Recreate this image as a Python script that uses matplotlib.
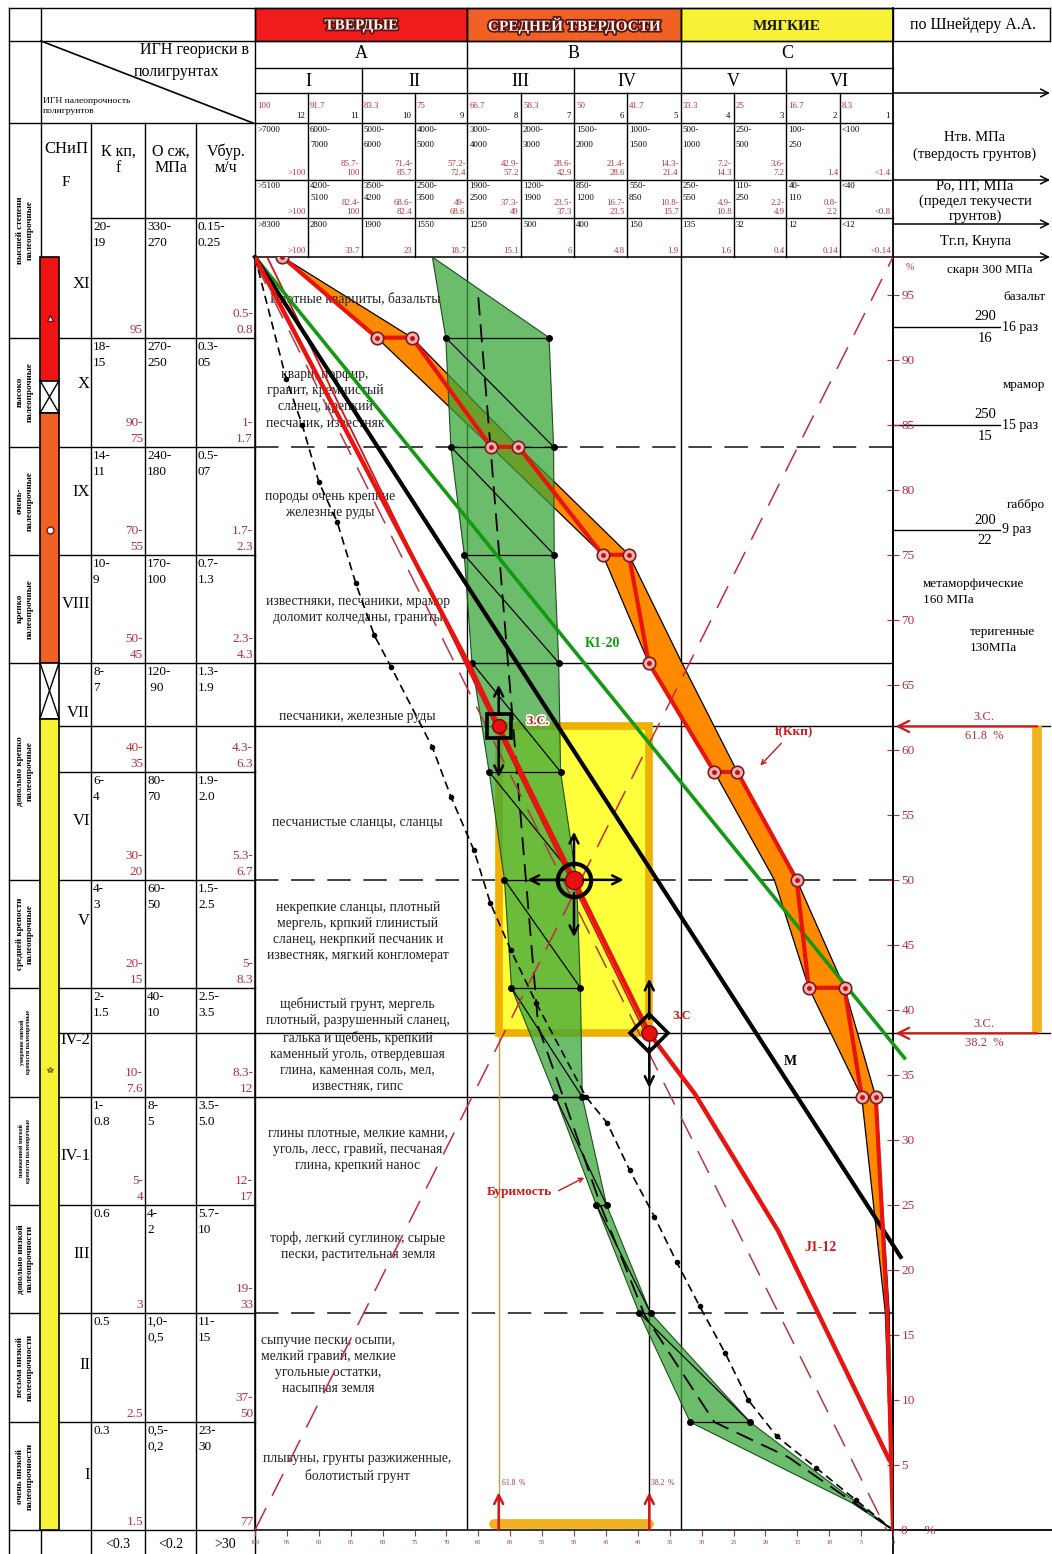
import matplotlib
matplotlib.use('Agg')
import matplotlib.pyplot as plt
import matplotlib.patheffects as pe
from matplotlib.patches import Rectangle, Polygon

plt.rcParams['font.family'] = ['Liberation Serif', 'DejaVu Serif']

W, H = 1052, 1554
RED_T = '#b5303c'
RED_L = '#e8140f'

# ---------------- шапка таблицы ----------------
classes = ['ТВЕРДЫЕ', 'СРЕДНЕЙ ТВЕРДОСТИ', 'МЯГКИЕ']
class_colors = ['#f01c1c', '#f26124', '#f7f236']
class_bounds = [100, 66.7, 33.3, 0]
groups = ['A', 'B', 'C']
sub_roman = ['I', 'II', 'III', 'IV', 'V', 'VI']
sub_bounds = [100, 83.3, 66.7, 50, 33.3, 16.7, 0]

col_bounds = [100, 91.7, 83.3, 75, 66.7, 58.3, 50, 41.7, 33.3, 25, 16.7, 8.3, 0]
col_pct = ['100', '91.7', '83.3', '75', '66.7', '58.3', '50', '41.7', '33.3', '25', '16.7', '8.3']
col_num = ['12', '11', '10', '9', '8', '7', '6', '5', '4', '3', '2', '1']
htv_mpa = ['>7000', '6000-\n7000', '5000-\n6000', '4000-\n5000', '3000-\n4000', '2000-\n3000',
           '1500-\n2000', '1000-\n1500', '500-\n1000', '250-\n500', '100-\n250', '<100']
htv_pct = ['>100', '85.7-\n100', '71.4-\n85.7', '57.2-\n72.4', '42.9-\n57.2', '28.6-\n42.9',
           '21.4-\n28.6', '14.3-\n21.4', '7.2-\n14.3', '3.6-\n7.2', '1.4', '<1.4']
po_mpa = ['>5100', '4200-\n5100', '3500-\n4200', '2500-\n3500', '1900-\n2500', '1200-\n1900',
          '850-\n1200', '550-\n850', '250-\n550', '110-\n250', '40-\n110', '<40']
po_pct = ['>100', '82.4-\n100', '68.6-\n82.4', '49-\n68.6', '37.3-\n49', '23.5-\n37.3',
          '16.7-\n23.5', '10.8-\n15.7', '4.9-\n10.8', '2.2-\n4.9', '0.8-\n2.2', '<0.8']
tgp_val = ['>8300', '2800', '1900', '1550', '1250', '500', '400', '150', '135', '32', '12', '<12']
tgp_pct = ['>100', '33.7', '23', '18.7', '15.1', '6', '4.8', '1.9', '1.6', '0.4', '0.14', '<0.14']

# ---------------- левая часть таблицы ----------------
group_names = ['высшей степени\nпалеопрочные', 'высоко\nпалеопрочные', 'очень-\nпалеопрочные',
               'крепко\nпалеопрочные', 'довольно крепко\nпалеопрочные', 'средней крепости\nпалеопрочные',
               'умеренно мягкой\nкрепости палеопрочные', 'пониженной мягкой\nкрепости палеопрочные',
               'довольно низкой\nпалеопрочности', 'весьма низкой\nпалеопрочности',
               'очень низкой\nпалеопрочности']
group_edges = [91.7, 83.3, 75, 66.7, 50, 41.7, 33.3, 25, 16.7, 8.3, 0]
bar_edges = [97.9, 88.4, 85.9, 66.7, 62.4, 0]
bar_kind = ['#ee1414', 'x', '#f26124', 'x', '#f7f236']
snip_roman = ['XI', 'X', 'IX', 'VIII', 'VII', 'VI', 'V', 'IV-2', 'IV-1', 'III', 'II', 'I']
snip_y = [95.8, 88.1, 79.8, 71.2, 62.8, 54.5, 46.8, 37.7, 28.8, 21.2, 12.7, 4.2]

row_edges = [91.7, 83.3, 75, 66.7, 61.8, 58.3, 50, 41.7, 38.2, 33.3, 25, 16.7, 8.3, 0]
kkp_top = ['20-\n19', '18-\n15', '14-\n11', '10-\n9', '8-\n7', '', '6-\n4', '4-\n3', '2-\n1.5', '',
           '1-\n0.8', '0.6', '0.5', '0.3']
kkp_red = ['95', '90-\n75', '70-\n55', '50-\n45', '', '40-\n35', '30-\n20', '20-\n15', '', '10-\n7.6',
           '5-\n4', '3', '2.5', '1.5']
osz_top = ['330-\n270', '270-\n250', '240-\n180', '170-\n100', '120-\n 90', '', '80-\n70', '60-\n50',
           '40-\n10', '', '8-\n5', '4-\n2', '1,0-\n0,5', '0,5-\n0,2']
vbur_top = ['0.15-\n0.25', '0.3-\n05', '0.5-\n07', '0.7-\n1.3', '1.3-\n1.9', '', '1.9-\n2.0', '1.5-\n2.5',
            '2.5-\n3.5', '', '3.5-\n5.0', '5.7-\n10', '11-\n15', '23-\n30']
vbur_red = ['0.5-\n0.8', '1-\n1.7', '1.7-\n2.3', '2.3-\n4.3', '', '4.3-\n6.3', '5.3-\n6.7', '5-\n8.3', '',
            '8.3-\n12', '12-\n17', '19-\n33', '37-\n50', '77']
bottom_vals = ['<0.3', '<0.2', '>30']

rock_texts = ['Плотные кварциты, базальты',
              'кварц, порфир,\nгранит, кремнистый\nсланец, крепкий\nпесчаник, известняк',
              'породы очень крепкие\nжелезные руды',
              'известняки, песчаники, мрамор\nдоломит колчеданы, граниты',
              'песчаники, железные руды',
              'песчанистые сланцы, сланцы',
              'некрепкие сланцы, плотный\nмергель, крпкий глинистый\nсланец, некрпкий песчаник и\nизвестняк, мягкий конгломерат',
              'щебнистый грунт, мергель\nплотный, разрушенный сланец,\nгалька и щебень, крепкий\nкаменный уголь, отвердевшая\nглина, каменная соль, мел,\nизвестняк, гипс',
              'глины плотные, мелкие камни,\nуголь, лесс, гравий, песчаная\nглина, крепкий нанос',
              'торф, легкий суглинок, сырые\nпески, растительная земля',
              'сыпучие пески, осыпи,\nмелкий гравий, мелкие\nугольные остатки,\nнасыпная земля',
              'плывуны, грунты разжиженные,\nболотистый грунт']
rock_x = [84.3, 89.0, 88.2, 83.9, 83.9, 83.9, 83.9, 83.9, 83.9, 83.9, 88.5, 84.0]
rock_y = [94.7, 87.0, 78.9, 70.8, 62.6, 54.4, 46.0, 37.3, 29.3, 21.8, 12.7, 4.8]

# ---------------- кривые графика (X, Y в %) ----------------
gold = [61.8, 50.0, 38.2]

J_x = [100, 66.3, 61.8, 50, 38.2, 31.0, 18.0, 0.6, 0]
J_y = [97.9, 66.4, 61.8, 50, 38.2, 33.5, 23.0, 5.4, 5.0]
M_x = [100, -1.2]
M_y = [97.9, 21.0]
K_x = [100, -1.8]
K_y = [97.9, 36.3]
thin_x = [98.1, 38.6]
thin_y = [97.9, 38.0]

bd_x = [100, 95.1, 92.6, 90.0, 87.1, 84.2, 81.3, 78.7, 72.2, 69.3, 65.7, 63.1, 59.9, 55.9, 48.1,
        44.8, 41.3, 37.4, 33.9, 30.3, 26.3, 22.7, 18.2, 12.1, 5.8, 0]
bd_y = [97.9, 88.5, 85.0, 80.6, 77.5, 72.8, 68.8, 66.4, 60.2, 56.4, 52.3, 48.2, 44.6, 40.5, 33.3,
        31.3, 27.7, 24.1, 20.6, 17.2, 13.6, 10.0, 7.2, 4.8, 2.3, 0]

# f(Ккп)
kl_x = [95.7, 80.9, 63.0, 45.5, 38.3, 28.0, 18.6, 13.2, 4.9, 1.2, 0]
kr_x = [95.7, 75.4, 58.7, 41.4, 33.1, 24.4, 15.1, 7.6, 2.7, 0.6, 0]
kb_y = [97.9, 91.7, 83.3, 75.0, 66.7, 58.3, 50.0, 41.7, 33.3, 16.7, 0]
kp_x = [95.7, 80.9, 75.4, 63.0, 58.7, 45.5, 41.4, 38.3, 28.0, 24.4, 15.1, 13.2, 7.6, 4.9, 2.7, 0.9, 0]
kp_y = [97.9, 91.7, 91.7, 83.3, 83.3, 75, 75, 66.7, 58.3, 58.3, 50, 41.7, 41.7, 33.3, 33.3, 16.7, 0]

# Буримость
gl_x = [72.2, 70.1, 69.3, 67.2, 66.0, 63.3, 60.9, 59.8, 52.9, 46.5, 39.8, 31.8, 6.5, 0]
gl_y = [97.9, 91.7, 83.3, 75.0, 66.7, 58.3, 50.0, 41.7, 33.3, 25.0, 16.7, 8.3, 2.1, 0]
gr_x = [72.2, 53.9, 53.2, 53.1, 52.4, 52.1, 49.6, 49.0, 48.7, 44.9, 38.0, 22.4, 0]
gr_y = [97.9, 91.7, 83.3, 75.0, 66.7, 58.3, 50.0, 41.7, 33.3, 25.0, 16.7, 8.3, 0]
gc_x = [65.0, 60.3, 58.1, 55.6, 51.7, 45.7, 38.9, 28.0, 16.4, 0]
gc_y = [94.8, 66.4, 53.3, 38.7, 33.3, 24.8, 16.5, 8.3, 5.6, 0]

fig = plt.figure(figsize=(W / 100, H / 100), dpi=100)
ax0 = fig.add_axes([0, 0, 1, 1])
ax0.set_xlim(0, W)
ax0.set_ylim(H, 0)
ax0.axis('off')


def xp(v):
    return 893 - v * 6.38


def yp(v):
    return 1530 - v * 13.003


def hl(y, x0, x1, lw=1.0, **kw):
    ax0.plot([x0, x1], [y, y], color='k', lw=lw, **kw)


def vl(x, y0, y1, lw=1.0, **kw):
    ax0.plot([x, x], [y0, y1], color='k', lw=lw, **kw)


def rarrow(y):
    ax0.annotate('', xy=(1050, y), xytext=(893, y),
                 arrowprops=dict(arrowstyle='->', color='k', lw=1.1, mutation_scale=14,
                                 shrinkA=0, shrinkB=0))


outline = [pe.withStroke(linewidth=2.6, foreground='#5a1414')]

# верхняя строка с классами
for i, name in enumerate(classes):
    x0, x1 = xp(class_bounds[i]), xp(class_bounds[i + 1])
    ax0.add_patch(Rectangle((x0, 8), x1 - x0, 33, fc=class_colors[i], ec='k', lw=1))
    if i < 2:
        ax0.text((x0 + x1) / 2, 26, name, ha='center', va='center', fontsize=11,
                 fontweight='bold', color='#fff4ea', path_effects=outline)
    else:
        ax0.text((x0 + x1) / 2, 26, name, ha='center', va='center', fontsize=11,
                 fontweight='bold', color='#1a1a1a')
    ax0.text((x0 + x1) / 2, 54, groups[i], ha='center', va='center', fontsize=13)
ax0.text(973, 25, 'по Шнейдеру А.А.', ha='center', va='center', fontsize=11.5)

for i, r in enumerate(sub_roman):
    x0, x1 = xp(sub_bounds[i]), xp(sub_bounds[i + 1])
    ax0.text((x0 + x1) / 2, 81, r, ha='center', va='center', fontsize=13)

for i in range(12):
    x0, x1 = xp(col_bounds[i]), xp(col_bounds[i + 1])
    ax0.text(x0 + 2, 106, col_pct[i], ha='left', va='center', fontsize=6.3, color=RED_T)
    ax0.text(x1 - 3, 116, col_num[i], ha='right', va='center', fontsize=6.3)
    ax0.text(x0 + 2, 126, htv_mpa[i], ha='left', va='top', fontsize=6.3, linespacing=2.1)
    ax0.text(x1 - 2, 177, htv_pct[i], ha='right', va='bottom', fontsize=6.3, color=RED_T,
             linespacing=1.25)
    ax0.text(x0 + 2, 182, po_mpa[i], ha='left', va='top', fontsize=6.3, linespacing=1.7)
    ax0.text(x1 - 2, 216, po_pct[i], ha='right', va='bottom', fontsize=6.3, color=RED_T,
             linespacing=1.2)
    ax0.text(x0 + 2, 221, tgp_val[i], ha='left', va='top', fontsize=6.3)
    ax0.text(x1 - 2, 255, tgp_pct[i], ha='right', va='bottom', fontsize=6.3, color=RED_T)

# линии шапки
hl(8, 9, 1050)
hl(41, 9, 1050)
hl(68, xp(100), xp(0))
hl(123, 9, xp(0))
for y in (180, 218):
    hl(y, xp(100), xp(0))
hl(218, 91, xp(100))
for y in (93, 180, 224, 257):
    rarrow(y)
hl(93, xp(100), 893)
for b in class_bounds[1:3]:
    vl(xp(b), 8, 257)
for b in (83.3, 50, 16.7):
    vl(xp(b), 68, 257)
for b in (91.7, 75, 58.3, 41.7, 25, 8.3):
    vl(xp(b), 93, 257)
vl(9, 8, H)
vl(41, 8, H)
for x in (91, 145, 196):
    vl(x, 123, H)
vl(xp(100), 8, H)
vl(xp(0), 8, H, lw=1.3)
vl(1050, 8, 41)
hl(1530, 893, 1052, lw=1.3)

# диагональная ячейка
ax0.plot([41, 253], [41, 123], color='k', lw=1.2)
ax0.text(195, 50, 'ИГН геориски в', ha='center', va='center', fontsize=11.5)
ax0.text(176, 72, 'полигрунтах', ha='center', va='center', fontsize=11.5)
ax0.text(43, 97, 'ИГН палеопрочность\nполигрунтов', ha='left', va='top', fontsize=6.8,
         linespacing=1.4)

ax0.text(66, 149, 'СНиП', ha='center', va='center', fontsize=12)
ax0.text(66, 183, 'F', ha='center', va='center', fontsize=11)
ax0.text(118, 160, 'К кп,\nf', ha='center', va='center', fontsize=11.5, linespacing=1.0)
ax0.text(171, 160, 'О сж,\nМПа', ha='center', va='center', fontsize=11.5, linespacing=1.0)
ax0.text(226, 160, 'Vбур.\nм/ч', ha='center', va='center', fontsize=11.5, linespacing=1.0)

# группы палеопрочности
g_top = 123
for name, e in zip(group_names, group_edges):
    g_bot = yp(e)
    small = 'крепости палеопрочные' in name
    ax0.text(25, (g_top + g_bot) / 2, name, rotation=90, ha='center', va='center',
             fontsize=4.2 if small else 6.6, fontweight='bold', linespacing=1.3)
    hl(g_bot, 9, 255)
    g_top = g_bot

# строки слева
body_edges = [218] + [yp(v) for v in row_edges]
for v in (61.8, 58.3, 38.2):
    hl(yp(v), 59, 255)
cols = [(91, 145), (145, 196), (196, 255)]
for i in range(len(body_edges) - 1):
    y0, y1 = body_edges[i], body_edges[i + 1]
    for (x0, x1), top, red in zip(cols, [kkp_top, osz_top, vbur_top],
                                  [kkp_red, [''] * 14, vbur_red]):
        if top[i]:
            ax0.text(x0 + 2, y0 + 3, top[i], ha='left', va='top', fontsize=9.5,
                     linespacing=1.45)
        if red[i]:
            ax0.text(x1 - 2, y1 - 2, red[i], ha='right', va='bottom', fontsize=9.5,
                     linespacing=1.45, color=RED_T)
for (x0, x1), v in zip(cols, bottom_vals):
    ax0.text((x0 + x1) / 2, 1545, v, ha='center', va='center', fontsize=10)

for r, v in zip(snip_roman, snip_y):
    ax0.text(90, yp(v), r, ha='right', va='center', fontsize=12)

# цветная полоса СНиП
for i, kind in enumerate(bar_kind):
    y0, y1 = yp(bar_edges[i]), yp(bar_edges[i + 1])
    if kind == 'x':
        ax0.add_patch(Rectangle((40, y0), 19, y1 - y0, fc='white', ec='k', lw=1.2, zorder=3))
        ax0.plot([40, 59], [y0, y1], color='k', lw=1, zorder=3)
        ax0.plot([40, 59], [y1, y0], color='k', lw=1, zorder=3)
    else:
        ax0.add_patch(Rectangle((40, y0), 19, y1 - y0, fc=kind, ec='k', lw=1.2, zorder=3))
ax0.plot(49.5, 318, marker='^', ms=5, mfc='white', mec='#7a1010', zorder=4)
ax0.plot(49.5, 530, marker='o', ms=5, mfc='white', mec='#7a1010', zorder=4)
ax0.plot(49.5, 1070, marker='*', ms=4, mfc='white', mec='#807000', zorder=4)

# правая колонка
ax0.text(975, 146, 'Нтв. МПа\n(твердость грунтов)', ha='center', va='center', fontsize=10.5,
         linespacing=1.3)
ax0.text(975, 201, 'Ро, ПТ, МПа\n(предел текучести\nгрунтов)', ha='center', va='center',
         fontsize=10.5, linespacing=1.15)
ax0.text(975, 242, 'Тг.п, Кнупа', ha='center', va='center', fontsize=10.5)
ax0.text(906, 268, '%', ha='left', va='center', fontsize=7, color=RED_T)
ax0.text(990, 270, 'скарн 300 МПа', ha='center', va='center', fontsize=9.5)
ax0.text(1045, 297, 'базальт', ha='right', va='center', fontsize=9.5)
ax0.text(1045, 385, 'мрамор', ha='right', va='center', fontsize=9.5)
ax0.text(1045, 505, 'габбро', ha='right', va='center', fontsize=9.5)
for y, num, den, times in [(327, '290', '16', '16 раз'), (425, '250', '15', '15 раз'),
                           (530, '200', '22', '9 раз')]:
    hl(y, 893, 1000)
    ax0.text(985, y - 10, num, ha='center', va='center', fontsize=10.5)
    ax0.text(985, y + 11, den, ha='center', va='center', fontsize=10.5)
    ax0.text(1002, y, times, ha='left', va='center', fontsize=10)
ax0.text(923, 592, 'метаморфические\n160 МПа', ha='left', va='center', fontsize=9.5,
         linespacing=1.4)
ax0.text(970, 640, 'теригенные\n130МПа', ha='left', va='center', fontsize=9.5,
         linespacing=1.4)

# ---------------- область графика ----------------
ax = fig.add_axes([255 / W, 1 - 1530 / H, (893 - 255) / W, (1530 - 257) / H])
ax.set_zorder(2)
ax.patch.set_visible(False)
ax.set_xlim(100, 0)
ax.set_ylim(0, 97.9)
for s in ax.spines.values():
    s.set_linewidth(1.1)

ax.yaxis.tick_right()
yt = list(range(0, 100, 5))
ax.set_yticks(yt)
ax.set_yticklabels(['0     %'] + [str(v) for v in yt[1:]])
ax.tick_params(axis='y', colors=RED_T, labelsize=9.5, length=8, direction='inout', pad=2)
xt = list(range(100, -1, -5))
ax.set_xticks(xt)
ax.set_xticklabels([str(v) for v in xt])
ax.tick_params(axis='x', colors=RED_T, labelsize=4.5, length=4, direction='out', pad=3)

# сетка
for v in (66.7, 33.3):
    ax.axhline(v, color='k', lw=1.0, zorder=1)
    ax.axvline(v, color='k', lw=1.0, zorder=1)
for v in (83.3, 50, 16.7):
    ax.axhline(v, color='#333333', lw=1.3, dashes=(13, 7), zorder=1)
for v in (gold[0], gold[2]):
    ax.plot([100, -24.6], [v, v], color='k', lw=1.0, zorder=1, clip_on=False)
ax.plot([gold[0], gold[0]], [0, gold[2]], color='#b8a040', lw=1.0, zorder=1)
ax.plot([gold[2], gold[2]], [0, gold[2]], color='k', lw=1.0, zorder=1)

# полоса f(Ккп)
ax.add_patch(Polygon(list(zip(kl_x, kb_y)) + list(zip(kr_x, kb_y))[::-1], closed=True,
                     fc='#ff8a00', ec='k', lw=0.9, zorder=2))

# зона золотого сечения
ax.add_patch(Rectangle((gold[2], gold[2]), gold[0] - gold[2], gold[0] - gold[2],
                       fc='#ffff3c', ec='#f0b000', lw=5.5, zorder=2))

# полоса буримости
ax.add_patch(Polygon(list(zip(gl_x, gl_y)) + list(zip(gr_x, gr_y))[::-1], closed=True,
                     fc='#3aa63a', alpha=0.75, ec='none', zorder=3))
ax.add_patch(Polygon(list(zip(gl_x, gl_y)) + list(zip(gr_x, gr_y))[::-1], closed=True,
                     fill=False, ec='#1f4f1f', lw=0.8, zorder=3))
gdl_x, gdr_x, gd_y = gl_x[1:12], gr_x[1:12], gl_y[1:12]
for i in range(len(gd_y)):
    ax.plot([gdl_x[i], gdr_x[i]], [gd_y[i], gd_y[i]], color='k', lw=0.9, zorder=4)
    if i + 1 < len(gd_y):
        ax.plot([gdl_x[i], gdr_x[i + 1]], [gd_y[i], gd_y[i + 1]], color='k', lw=0.9, zorder=4)
ax.plot(gdl_x + gdr_x, gd_y + gd_y, 'o', color='k', ms=4, zorder=4)
ax.plot(gc_x, gc_y, color='k', lw=1.3, dashes=(10, 5), zorder=4)

# описания пород
for t, x, y in zip(rock_texts, rock_x, rock_y):
    ax.text(x, y, t, ha='center', va='center', fontsize=9.8, linespacing=1.3, color='#222222',
            zorder=3.5)

# диагонали
ax.plot([100, 1], [97.5, 0], color='#b03a40', lw=1.1, dashes=(16, 9), zorder=4)
ax.plot([100, 0], [0, 97.9], color='#c8283c', lw=1.1, dashes=(16, 9), zorder=4)

ax.plot(bd_x, bd_y, color='k', lw=1.2, dashes=(5, 3), marker='o', ms=3, zorder=5)
ax.plot(thin_x, thin_y, color='#d01818', lw=1.3, zorder=5)
ax.plot(K_x, K_y, color='#129a12', lw=2.6, zorder=5, clip_on=False)
ax.plot(M_x, M_y, color='k', lw=3.0, zorder=5, clip_on=False)
ax.plot(J_x, J_y, color=RED_L, lw=3.2, zorder=6)

ax.plot(kp_x, kp_y, color=RED_L, lw=3.0, zorder=6)
ax.plot(kp_x[:15], kp_y[:15], 'o', ms=9, mfc='#f4b0b0', mec='#7a1c1c', mew=1.2, zorder=7)
ax.plot(kp_x[:15], kp_y[:15], 'o', ms=2.5, color='#c01010', zorder=7)


def arrow(x0, y0, x1, y1, color='k', lw=1.8, ms=16):
    ax.annotate('', xy=(x1, y1), xytext=(x0, y0), annotation_clip=False,
                arrowprops=dict(arrowstyle='->', color=color, lw=lw, mutation_scale=ms,
                                shrinkA=0, shrinkB=0), zorder=8)


# точки золотого сечения
g0, g1, g2 = gold
ax.plot(g0, g0, 's', ms=17, mfc='none', mec='k', mew=2.6, zorder=8)
ax.plot(g0, g0, 'o', ms=10, mfc='#e81010', mec='#800000', zorder=8)
arrow(g0, g0 + 0.9, g0, 65.0)
arrow(g0, g0 - 0.9, g0, 57.9)
ax.plot(g1, g1, 'o', ms=24, mfc='none', mec='k', mew=3, zorder=8)
ax.plot(g1, g1, 'o', ms=13, mfc='#e81010', mec='#800000', zorder=8)
arrow(g1, g1 + 1.0, g1, 53.7)
arrow(g1, g1 - 1.0, g1, 45.6)
arrow(g1 + 1.5, g1, 57.3, g1)
arrow(g1 - 1.5, g1, 42.2, g1)
ax.plot(g2, g2, 'D', ms=19, mfc='none', mec='k', mew=2.6, zorder=8)
ax.plot(g2, g2, 'o', ms=11, mfc='#e81010', mec='#800000', zorder=8)
arrow(g2, g2 + 1.1, g2, 42.4)
arrow(g2, g2 - 1.1, g2, 34.0)

white = [pe.withStroke(linewidth=2.5, foreground='white')]
ax.text(57.4, g0 + 0.4, 'З.С.', color='#d01818', fontsize=9, fontweight='bold',
        ha='left', va='center', path_effects=white, zorder=9)
ax.text(34.5, 39.5, 'З.С', color='#d01818', fontsize=9, fontweight='bold',
        ha='left', va='center', zorder=9)

ax.text(18.5, 61.4, 'f(Ккп)', color='#d01818', fontsize=9.5, fontweight='bold',
        ha='left', va='center', zorder=9)
arrow(17.5, 60.5, 20.8, 58.8, color='#d01818', lw=1.0, ms=8)
ax.text(45.5, 68.2, 'К1-20', color='#129a12', fontsize=10, fontweight='bold',
        ha='center', va='center', zorder=9)
ax.text(11.4, 21.7, 'J1-12', color='#d01818', fontsize=10, fontweight='bold',
        ha='center', va='center', zorder=9)
ax.text(16.1, 36.0, 'М', color='k', fontsize=10, fontweight='bold',
        ha='center', va='center', zorder=9)
ax.text(58.5, 26.0, 'Буримость', color='#d01818', fontsize=9.5, fontweight='bold',
        ha='center', va='center', zorder=9)
arrow(52.4, 26.1, 48.4, 27.1, color='#d01818', lw=1.0, ms=8)

# низ: отрезок золотого сечения
ax.plot([62.5, g2], [0.45, 0.45], color='#f0b020', lw=7, solid_capstyle='round', zorder=6,
        clip_on=False)
for v in (g0, g2):
    arrow(v, 0, v, 2.9, color='#d01818', lw=1.8, ms=16)
ax.text(g0 - 0.5, 3.6, '61.8  %', color=RED_T, fontsize=5.5, ha='left', va='center')
ax.text(g2 - 0.3, 3.6, '38.2  %', color=RED_T, fontsize=5.5, ha='left', va='center')

# справа: стрелки З.С.
for v in (g0, g2):
    arrow(-22.6, v, -0.4, v, color='#d01818', lw=1.6, ms=20)
    ax.text(-14.3, v + 0.75, 'З.С.', color=RED_T, fontsize=9, ha='center', va='center')
    ax.text(-14.3, v - 0.75, f'{v}  %', color=RED_T, fontsize=9, ha='center', va='center')
ax.plot([-22.6, -22.6], [g0, g2], color='#f0b020', lw=7, solid_capstyle='butt',
        clip_on=False, zorder=6)

fig.savefig('out.png', dpi=100)
